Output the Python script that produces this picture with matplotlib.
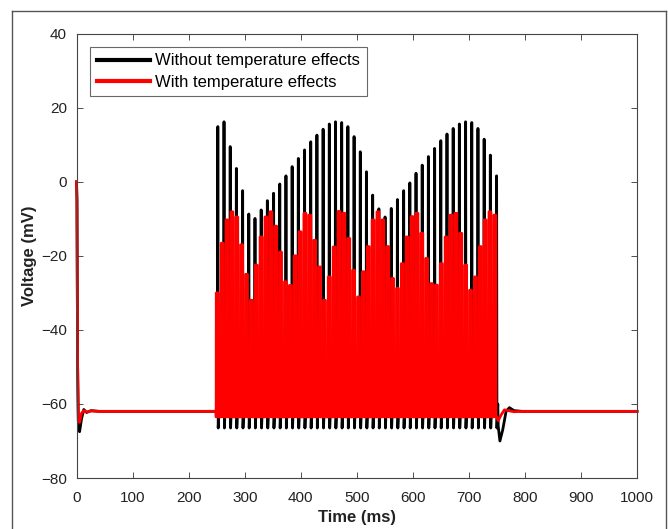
import numpy as np
import matplotlib
matplotlib.use("Agg")
import matplotlib.pyplot as plt
from matplotlib.lines import Line2D

plt.rcParams['font.family'] = ['Liberation Sans', 'DejaVu Sans']

# ---------------- data ----------------
series_labels = ["Without temperature effects", "With temperature effects"]

# Spike train window (ms)
black_first_spike, black_last_spike = 252.0, 749.0
red_first_spike, red_last_spike = 251.0, 746.0

# Peak voltages (mV) of each spike
black_peaks = [14.9, 16.2, 9.5, 3.6, -2.4, -8.7, -9.9, -7.6, -5.1, -3.1,
               -0.6, 1.6, 4.1, 6.3, 8.6, 10.8, 12.6, 14.2, 15.6, 16.2,
               16.0, 14.9, 12.2, 8.1, 2.7, -3.6, -7.3, -9.5, -7.2, -4.8,
               -2.4, -0.3, 2.3, 4.5, 6.8, 9.0, 11.1, 12.9, 14.4, 15.6,
               16.2, 16.0, 14.4, 11.5, 7.2, 1.6]
red_peaks = [-30, -16.6, -10.3, -8.1, -9.5, -17, -25, -32, -22.5, -14.9,
             -9.5, -8.1, -12, -19, -27, -28, -20, -13.5, -8.5, -9,
             -15.8, -23, -32, -25.7, -17.6, -8,
             -8.5, -15.3, -23.9, -31.1, -24.3, -17.5, -10.3, -8.1, -10.3, -17.5,
             -26.1, -28.8, -22.1, -14.9, -9.4, -8.5, -13.9, -20.7, -27.5, -27.9,
             -22.1, -14.9, -9.0, -8.5, -13.9, -22.5, -29.3, -25.7, -17.5, -10.3,
             -8.1, -9.0]

black_trough, red_trough = -66.5, -63.5
black_recover = -60.0

# Initial transient and final recovery (time ms, voltage mV)
black_start_t = [0, 0.8, 2.0, 3.5, 5.5, 9, 13, 18, 26, 40, 249]
black_start_v = [0, -5, -50, -67, -67.5, -64, -61.5, -62.3, -61.8, -62, -62]
red_start_t = [0, 0.8, 2.0, 3.2, 5.5, 9, 13, 18, 26, 40, 249]
red_start_v = [0, -5, -50, -64.5, -65, -62.5, -61.8, -62.2, -61.9, -62, -62]
black_end_t = [752, 755, 760, 766, 772, 780, 795, 999.5]
black_end_v = [-66, -70, -67, -62, -61, -61.8, -62, -62]
red_end_t = [749, 752, 757, 763, 770, 780, 795, 999.5]
red_end_v = [-63.5, -64.5, -63, -61.6, -61.8, -62.1, -62, -62]

x_ticks = [0, 100, 200, 300, 400, 500, 600, 700, 800, 900, 1000]
y_ticks = [-80, -60, -40, -20, 0, 20, 40]


def black_trace():
    times = np.linspace(black_first_spike, black_last_spike, len(black_peaks))
    t, v = list(black_start_t), list(black_start_v)
    for tp, p in zip(times, black_peaks):
        t += [tp - 0.6, tp - 0.15, tp + 0.15, tp + 0.7, tp + 2.2]
        v += [-58, p, p, black_trough, black_recover]
    t += black_end_t
    v += black_end_v
    return np.array(t), np.array(v)


def red_trace():
    times = np.linspace(red_first_spike, red_last_spike, len(red_peaks))
    t, v = list(red_start_t), list(red_start_v)
    for tp, p in zip(times, red_peaks):
        t += [tp - 1.95, tp - 1.75, tp + 1.75, tp + 1.95]
        v += [red_trough, p, p, red_trough]
    t += red_end_t
    v += red_end_v
    return np.array(t), np.array(v)


tb, vb = black_trace()
tr, vr = red_trace()

# ---------------- figure ----------------
W, H = 668, 529
fig = plt.figure(figsize=(W / 100, H / 100), dpi=100)
ax = fig.add_axes([76.5 / W, 1 - 478 / H, (637.3 - 76.5) / W, (478 - 33.7) / H])

ax.plot(tb, vb, color='black', lw=2.0, label=series_labels[0], clip_on=False)
ax.plot(tr, vr, color='#ff0000', lw=2.0, label=series_labels[1], clip_on=False)

ax.set_xlim(0, 1000)
ax.set_ylim(-80, 40)
ax.set_xticks(x_ticks)
ax.set_yticks(y_ticks)
ax.tick_params(axis='both', direction='in', length=4, width=0.6, colors='#333333',
               labelsize=11, top=True, right=True, labelcolor='#222222')
ax.tick_params(axis='x', pad=9)
ax.tick_params(axis='y', pad=7)
for s in ax.spines.values():
    s.set_color('#444444')
    s.set_linewidth(0.8)

ax.set_xlabel("Time (ms)", fontsize=12, fontweight='bold', labelpad=4, color='#222222')
ax.set_ylabel("Voltage (mV)", fontsize=12, fontweight='bold', labelpad=3, color='#222222')

leg = ax.legend(loc='upper left', bbox_to_anchor=(13.5 / 561, 1 - 13 / 444),
                borderaxespad=0, fontsize=12, frameon=True, fancybox=False,
                handlelength=3.2, handletextpad=0.3, borderpad=0.4, labelspacing=0.38)
leg.get_frame().set_edgecolor('#444444')
leg.get_frame().set_linewidth(0.8)
for h in leg.get_lines():
    h.set_linewidth(3)

# Outer frame around the figure
frame_col = '#555555'
fx0, fx1, fy1 = 12 / W, 666 / W, 1 - 11 / H
fig.add_artist(Line2D([fx0, fx0], [-0.01, fy1], color=frame_col, lw=1.0, transform=fig.transFigure))
fig.add_artist(Line2D([fx0, fx1], [fy1, fy1], color=frame_col, lw=1.0, transform=fig.transFigure))
fig.add_artist(Line2D([fx1, fx1], [fy1, -0.01], color=frame_col, lw=1.0, transform=fig.transFigure))

fig.savefig("out.png", dpi=100)
